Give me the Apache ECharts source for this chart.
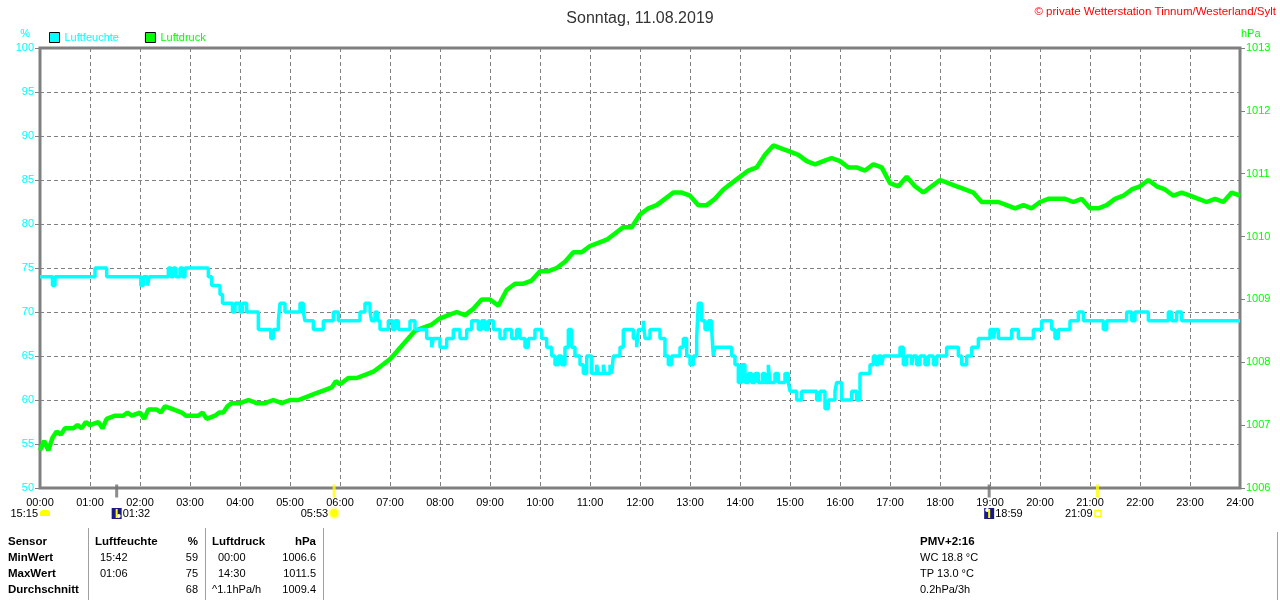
<!DOCTYPE html>
<html>
<head>
<meta charset="utf-8">
<title>Sonntag, 11.08.2019</title>
<script src="https://cdn.jsdelivr.net/npm/echarts@6.0.0/dist/echarts.min.js"></script>
<style>
html, body { margin: 0; padding: 0; background: #fff; }
#main { width: 1280px; height: 600px; }
</style>
</head>
<body>
<div id="main"></div>
<script>
// Zeit in Minuten seit 00:00
var humidity = [
    [0,74],[15,73],[18,74],[66,75],[80,74],[121,73],[124,74],[129,73],[131,74],[154,75],[157,74],[160,75],
    [163,74],[168,75],[171,74],[174,75],[202,74],[206,73],[216,72],[219,71],[231,70],[234,71],[240,70],
    [243,71],[248,70],[262,68],[277,67],[280,68],[286,69],[288,71],[294,70],[312,71],[316,70],[318,69],
    [328,68],[340,69],[352,70],[358,69],[384,70],[390,71],[396,70],[398,69],[402,70],[405,69],[408,68],
    [418,69],[423,68],[426,69],[430,68],[444,69],[450,68],[464,67],[470,66],[472,67],[480,66],[488,67],
    [496,68],[504,67],[512,68],[518,69],[526,68],[530,69],[534,68],[538,69],[544,68],[552,67],[558,68],
    [566,67],[572,68],[576,67],[582,66],[586,67],[594,68],[602,67],[608,66],[614,65],[618,64],[622,65],
    [626,64],[630,66],[634,68],[638,66],[642,65],[648,64],[652,63],[656,65],[662,63],[668,64],[670,63],
    [676,64],[678,63],[684,64],[686,63],[688,65],[696,66],[700,68],[712,67],[716,66],[718,68],[724,69],
    [726,67],[732,68],[744,67],[750,65],[754,64],[758,65],[768,66],[772,67],[776,65],[780,64],[784,65],
    [788,67],[790,71],[794,69],[798,68],[802,69],[806,68],[808,65],[810,66],[830,65],[834,64],[838,62],
    [842,64],[846,62],[850,63],[854,62],[858,63],[862,62],[867,63],[870,62],[874,64],[876,62],[882,63],
    [886,62],[894,63],[898,62],[900,61],[908,60],[914,61],[932,60],[936,61],[942,59],[946,60],[954,61],
    [956,62],[962,60],[974,61],[980,60],[984,63],[996,64],[1000,65],[1003,64],[1006,65],[1010,64],
    [1012,65],[1032,66],[1036,64],[1040,65],[1046,64],[1048,65],[1052,64],[1056,65],[1062,64],[1066,65],
    [1072,64],[1076,65],[1088,66],[1102,65],[1106,64],[1112,65],[1118,66],[1126,67],[1140,68],[1144,67],
    [1146,68],[1150,67],[1166,68],[1174,67],[1192,68],[1202,69],[1214,68],[1218,67],[1222,68],[1236,69],
    [1246,70],[1252,69],[1276,68],[1280,69],[1304,70],[1310,69],[1314,70],[1330,69],[1354,70],[1358,69],
    [1364,70],[1370,69],[1440,69]
];

var pressure = [
    [0,1006.6],[5,1006.75],[10,1006.6],[15,1006.8],[20,1006.9],[25,1006.85],[30,1006.95],[40,1006.95],
    [45,1007.0],[50,1006.95],[55,1007.05],[60,1007.0],[70,1007.05],[75,1006.95],[80,1007.1],[90,1007.15],
    [100,1007.15],[105,1007.2],[110,1007.15],[120,1007.2],[125,1007.1],[130,1007.25],[140,1007.25],
    [145,1007.2],[150,1007.3],[160,1007.25],[170,1007.2],[175,1007.15],[180,1007.15],[190,1007.15],
    [195,1007.2],[200,1007.1],[210,1007.15],[215,1007.2],[220,1007.2],[225,1007.3],[230,1007.35],
    [240,1007.35],[250,1007.4],[260,1007.35],[270,1007.35],[280,1007.4],[290,1007.35],[300,1007.4],
    [310,1007.4],[320,1007.45],[330,1007.5],[340,1007.55],[350,1007.6],[355,1007.7],[360,1007.65],
    [370,1007.75],[380,1007.75],[390,1007.8],[400,1007.85],[410,1007.95],[420,1008.05],[430,1008.2],
    [440,1008.35],[450,1008.5],[460,1008.55],[470,1008.6],[480,1008.7],[490,1008.75],[500,1008.8],
    [510,1008.75],[520,1008.85],[530,1009.0],[540,1009.0],[550,1008.9],[560,1009.15],[570,1009.25],
    [580,1009.25],[590,1009.3],[600,1009.45],[610,1009.45],[620,1009.5],[630,1009.6],[640,1009.75],
    [650,1009.75],[660,1009.85],[670,1009.9],[680,1009.95],[690,1010.05],[700,1010.15],[710,1010.15],
    [720,1010.35],[730,1010.45],[740,1010.5],[750,1010.6],[760,1010.7],[770,1010.7],[780,1010.65],
    [790,1010.5],[800,1010.5],[810,1010.6],[820,1010.75],[830,1010.85],[840,1010.95],[850,1011.05],
    [860,1011.1],[870,1011.3],[880,1011.45],[890,1011.4],[900,1011.35],[910,1011.3],[920,1011.2],
    [930,1011.15],[940,1011.2],[950,1011.25],[960,1011.2],[970,1011.1],[980,1011.1],[990,1011.05],
    [1000,1011.15],[1010,1011.1],[1020,1010.85],[1030,1010.8],[1040,1010.95],[1050,1010.8],[1060,1010.7],
    [1070,1010.8],[1080,1010.9],[1090,1010.85],[1100,1010.8],[1110,1010.75],[1120,1010.7],[1130,1010.55],
    [1140,1010.55],[1150,1010.55],[1160,1010.5],[1170,1010.45],[1180,1010.5],[1190,1010.45],[1200,1010.55],
    [1210,1010.6],[1220,1010.6],[1230,1010.6],[1240,1010.55],[1250,1010.6],[1260,1010.45],[1270,1010.45],
    [1280,1010.5],[1290,1010.6],[1300,1010.65],[1310,1010.75],[1320,1010.8],[1330,1010.9],[1340,1010.8],
    [1350,1010.75],[1360,1010.65],[1370,1010.7],[1380,1010.65],[1390,1010.6],[1400,1010.55],[1410,1010.6],
    [1420,1010.55],[1430,1010.7],[1440,1010.65]
];

// Sonne / Mond: Zeitpunkt, angezeigter Text, Art
var astroTimes = [0, 92, 353, 1139, 1269];
var astroTexts = ['15:15', '01:32', '05:53', '18:59', '21:09'];
var astroKinds = ['sunhours', 'moonrise', 'sunrise', 'moonset', 'sunset'];

// Tabelle unten
var tableRows = ['Sensor', 'MinWert', 'MaxWert', 'Durchschnitt'];
var humCol = [['Luftfeuchte', '%'], ['15:42', '59'], ['01:06', '75'], ['', '68']];
var presCol = [['Luftdruck', 'hPa'], ['00:00', '1006.6'], ['14:30', '1011.5'], ['^1.1hPa/h', '1009.4']];
var extraCol = ['PMV+2:16', 'WC 18.8 °C', 'TP 13.0 °C', '0.2hPa/3h'];

var FONT = 'Liberation Sans, Arial, sans-serif';
var CYAN = '#00FFFF';
var GREEN = '#00FF00';

function pad(n) { return (n < 10 ? '0' : '') + n; }

var markerData = [];
for (var i = 1; i < astroTimes.length; i++) {
    var isSun = astroKinds[i] === 'sunrise' || astroKinds[i] === 'sunset';
    markerData.push({
        value: [astroTimes[i], 50],
        itemStyle: { color: isSun ? '#FFFF00' : '#707070' }
    });
}

var dom = document.getElementById('main');
var myChart = echarts.init(dom);

var option = {
    animation: false,
    backgroundColor: '#fff',
    textStyle: { fontFamily: FONT },
    title: {
        text: 'Sonntag, 11.08.2019',
        left: 'center',
        top: 6,
        textStyle: { fontSize: 16, fontWeight: 'normal', color: '#333', fontFamily: FONT }
    },
    legend: {
        left: 44,
        top: 27,
        icon: 'rect',
        itemWidth: 10,
        itemHeight: 10,
        itemGap: 26,
        itemTextGap: 4,
        itemStyle: { borderColor: '#000', borderWidth: 1 },
        textStyle: { fontSize: 11, fontFamily: FONT },
        data: [
            { name: 'Luftfeuchte', textStyle: { color: CYAN } },
            { name: 'Luftdruck', textStyle: { color: GREEN } }
        ]
    },
    grid: {
        left: 40, right: 40, top: 48, bottom: 112,
        show: true, borderColor: '#808080', borderWidth: 3,
        containLabel: false
    },
    xAxis: {
        type: 'value',
        min: 0, max: 1440, interval: 60,
        axisLine: { show: false },
        axisTick: { show: false },
        axisLabel: {
            margin: 9, color: '#000', fontSize: 11, fontFamily: FONT,
            formatter: function (v) { return pad(v / 60) + ':00'; }
        },
        splitLine: { show: true, lineStyle: { color: '#808080', type: [4, 3], width: 1 } }
    },
    yAxis: [
        {
            type: 'value', min: 50, max: 100, interval: 5,
            name: '%', nameGap: 9,
            nameTextStyle: { color: CYAN, fontSize: 11, align: 'right', padding: [0, 10, 0, 0], fontFamily: FONT },
            axisLine: { show: false },
            axisTick: { show: true, length: 5, lineStyle: { color: '#808080', width: 1 } },
            axisLabel: { color: CYAN, fontSize: 11, margin: 6, fontFamily: FONT },
            splitLine: { show: true, lineStyle: { color: '#808080', type: [4, 3], width: 1 } }
        },
        {
            type: 'value', min: 1006, max: 1013, interval: 1,
            name: 'hPa', nameGap: 9,
            nameTextStyle: { color: GREEN, fontSize: 11, align: 'left', padding: [0, 0, 0, 1], fontFamily: FONT },
            axisLine: { show: false },
            axisTick: { show: true, length: 5, lineStyle: { color: '#808080', width: 1 } },
            axisLabel: {
                color: GREEN, fontSize: 11, margin: 6, fontFamily: FONT,
                formatter: function (v) { return String(v); }
            },
            splitLine: { show: false }
        }
    ],
    series: [
        {
            name: 'Luftdruck',
            type: 'line',
            yAxisIndex: 1,
            data: pressure,
            symbol: 'none',
            color: GREEN,
            lineStyle: { color: GREEN, width: 4.5 },
            z: 3
        },
        {
            name: 'Luftfeuchte',
            type: 'line',
            yAxisIndex: 0,
            step: 'end',
            data: humidity,
            symbol: 'none',
            color: CYAN,
            lineStyle: { color: CYAN, width: 3.5 },
            z: 4
        },
        {
            name: 'astro',
            type: 'scatter',
            yAxisIndex: 0,
            data: markerData,
            symbol: 'rect',
            symbolSize: [3, 13],
            symbolOffset: [0, 3],
            clip: false,
            silent: true,
            z: 6
        }
    ]
};

myChart.setOption(option, true);

// Symbole und Texte unter der Zeitachse, Position aus der x-Achse
var graphics = [];
var iconY = 513;
for (var k = 0; k < astroTimes.length; k++) {
    var px = myChart.convertToPixel({ xAxisIndex: 0 }, astroTimes[k]);
    var kind = astroKinds[k];
    var txtStyle = { text: astroTexts[k], fill: '#000', font: '11px ' + FONT, verticalAlign: 'middle' };
    if (kind === 'sunhours') {
        graphics.push({ type: 'rect', shape: { x: px, y: iconY - 3, width: 10, height: 6, r: [3, 3, 0, 0] }, style: { fill: '#FFFF00' } });
        txtStyle.align = 'right';
        graphics.push({ type: 'text', x: px - 2, y: iconY + 1, style: txtStyle });
    } else if (kind === 'moonrise' || kind === 'moonset') {
        graphics.push({ type: 'rect', shape: { x: px - 5, y: iconY - 5, width: 10, height: 11 }, style: { fill: '#1A1A80' } });
        graphics.push({ type: 'circle', shape: { cx: px + (kind === 'moonset' ? -2 : 2), cy: iconY + (kind === 'moonset' ? -3 : 3), r: 2 }, style: { fill: '#fff' } });
        graphics.push({ type: 'rect', shape: { x: px - 1, y: iconY - 4, width: 2, height: 9 }, style: { fill: '#FFFF00' } });
        txtStyle.align = 'left';
        graphics.push({ type: 'text', x: px + 6, y: iconY + 1, style: txtStyle });
    } else if (kind === 'sunrise') {
        graphics.push({ type: 'circle', shape: { cx: px, cy: iconY, r: 6 }, style: { fill: '#FFFFA0' } });
        graphics.push({ type: 'circle', shape: { cx: px, cy: iconY, r: 4 }, style: { fill: '#FFFF00' } });
        txtStyle.align = 'right';
        graphics.push({ type: 'text', x: px - 6, y: iconY + 1, style: txtStyle });
    } else {
        graphics.push({ type: 'rect', shape: { x: px - 2.5, y: iconY - 2.5, width: 6, height: 6 }, style: { fill: 'none', stroke: '#FFFF00', lineWidth: 1.5 } });
        txtStyle.align = 'right';
        graphics.push({ type: 'text', x: px - 5, y: iconY + 1, style: txtStyle });
    }
}

// Copyright
graphics.push({
    type: 'text', right: 4, top: 6,
    style: { text: '© private Wetterstation Tinnum/Westerland/Sylt', fill: '#FF0000', font: '11.5px ' + FONT }
});

// Tabelle
var rowY = [542, 558, 574, 590];
function addText(x, y, text, align, bold) {
    graphics.push({
        type: 'text', x: x, y: y,
        style: {
            text: text, fill: '#000', align: align, verticalAlign: 'middle',
            font: (bold ? 'bold 11.5px ' : '11px ') + FONT
        }
    });
}
for (var r = 0; r < tableRows.length; r++) {
    var head = r === 0;
    addText(8, rowY[r], tableRows[r], 'left', true);
    addText(head ? 95 : 100, rowY[r], humCol[r][0], 'left', head);
    addText(198, rowY[r], humCol[r][1], 'right', head);
    addText((head || r === 3) ? 212 : 218, rowY[r], presCol[r][0], 'left', head);
    addText(316, rowY[r], presCol[r][1], 'right', head);
    addText(920, rowY[r], extraCol[r], 'left', head);
}
[88, 205, 323].forEach(function (x) {
    graphics.push({ type: 'line', shape: { x1: x + 0.5, y1: 528, x2: x + 0.5, y2: 600 }, style: { stroke: '#A0A0A0', lineWidth: 1 } });
});
graphics.push({ type: 'line', shape: { x1: 1277.5, y1: 532, x2: 1277.5, y2: 600 }, style: { stroke: '#A0A0A0', lineWidth: 1 } });

myChart.setOption({ graphic: graphics });
</script>
</body>
</html>
